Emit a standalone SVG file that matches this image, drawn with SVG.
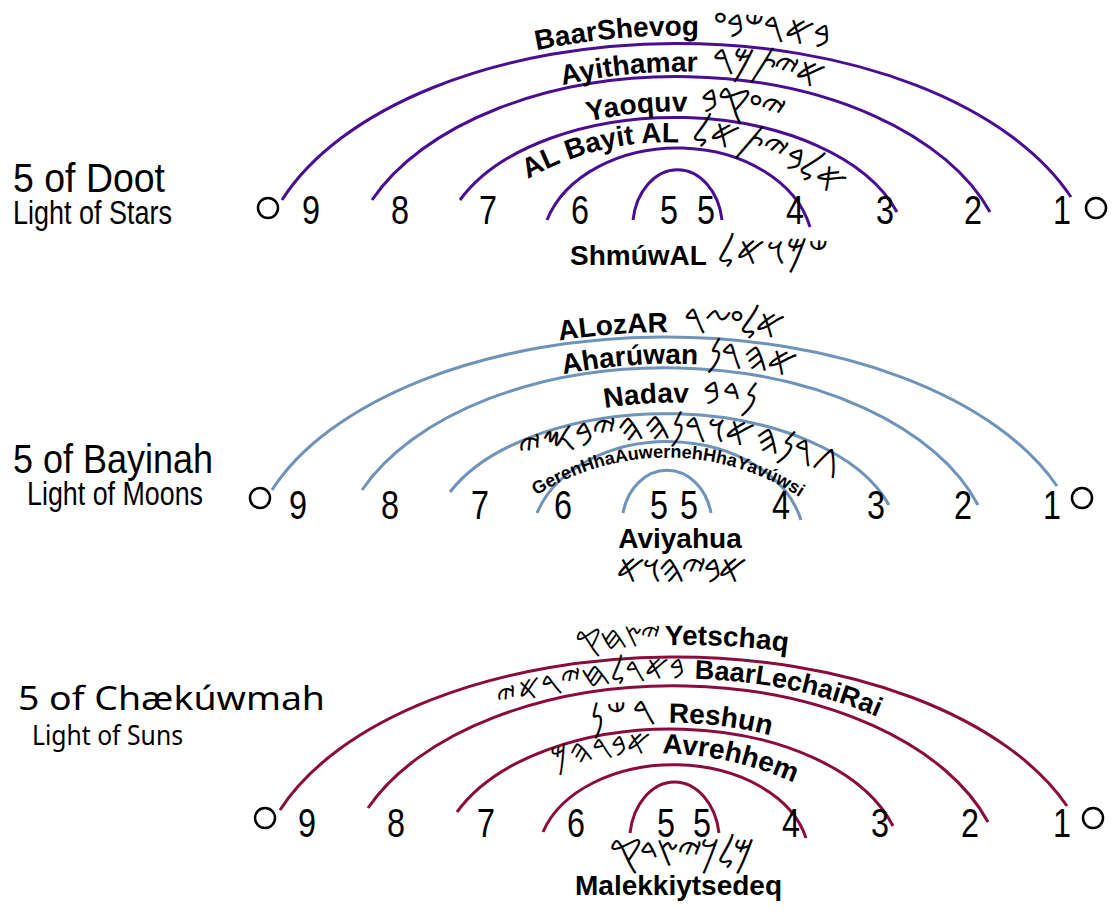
<svg xmlns="http://www.w3.org/2000/svg" xmlns:xlink="http://www.w3.org/1999/xlink" width="1112" height="911" viewBox="0 0 1112 911">
<style>
.num{font-family:"Liberation Sans",Arial,sans-serif;font-size:40px;text-anchor:middle;fill:#000}
.lbl{font-family:"Liberation Sans",Arial,sans-serif;font-weight:bold;font-size:28px;fill:#000;unicode-bidi:bidi-override;direction:ltr}
.ph{font-family:"DejaVu Sans","Noto Sans",sans-serif;font-weight:normal;font-size:40px}
.title{font-family:"Liberation Sans",Arial,sans-serif;fill:#000}
.title3{font-family:"Noto Sans","Open Sans",sans-serif;fill:#000}
.end{fill:none;stroke:#000;stroke-width:2.5}
.arc{fill:none;stroke-width:3}
.s1{stroke:#4a0e91}
.s2{stroke:#6f93b9}
.s3{stroke:#8b0c3c}
</style>
<defs>
<path id="p1" d="M288,192 A420,236 0 0 1 1077,189"/>
<path id="p2" d="M378,195 A330,199 0 0 1 996,207"/>
<path id="p3" d="M462,194 A233,135 0 0 1 899,206"/>
<path id="p4" d="M528,179 A281,281 0 0 1 880,240"/>
<path id="p6" d="M278,485 A418,230 0 0 1 1063,481"/>
<path id="p7" d="M366,486 A328,197 0 0 1 982,501"/>
<path id="p8" d="M457,481 A234,129 0 0 1 896,494"/>
<path id="p9a" d="M523,464 A412,412 0 0 1 850,484"/>
<path id="p9b" d="M516,510 A243,243 0 0 1 820,512"/>
<path id="p11" d="M290,798 A419,230 0 0 1 1077,794"/>
<path id="p12" d="M376,801 A330,196 0 0 1 996,815"/>
<path id="p13" d="M459,806 A232,136 0 0 1 895,820"/>
<path id="p14" d="M555,770 A330,330 0 0 1 850,815"/>
</defs>

<g id="connectors">
<g class="arc s1">
<path d="M282,200 A420,236 0 0 1 1071,197"/>
<path d="M372,200 A330,199 0 0 1 990,212"/>
<path d="M460,200 A233,135 0 0 1 897,212"/>
<path d="M547,220 A136,101 0 0 1 810,227"/>
<path d="M633,220 A45,59 0 0 1 722,220"/>
</g>
<g class="arc s2">
<path d="M272,490 A418,230 0 0 1 1057,486"/>
<path d="M362,490 A328,197 0 0 1 978,505"/>
<path d="M450,492 A234,129 0 0 1 889,505"/>
<path d="M537,513 A137,102 0 0 1 801,520"/>
<path d="M623,513 A45,54 0 0 1 711,513"/>
</g>
<g class="arc s3">
<path d="M280,810 A419,230 0 0 1 1067,806"/>
<path d="M368,808 A330,196 0 0 1 988,822"/>
<path d="M457,812 A232,136 0 0 1 893,826"/>
<path d="M543,832 A136,94 0 0 1 806,838"/>
<path d="M630,833 A45,60 0 0 1 719,833"/>
</g>
</g>

<g id="doot">
<text class="title" x="13" y="192" font-size="41" textLength="152" lengthAdjust="spacingAndGlyphs">5 of Doot</text>
<text class="title" x="13" y="224" font-size="33" textLength="159" lengthAdjust="spacingAndGlyphs">Light of Stars</text>
<circle class="end" cx="268" cy="208" r="10"/>
<circle class="end" cx="1096" cy="208" r="10"/>
<text class="num" x="311" y="224" textLength="18" lengthAdjust="spacingAndGlyphs">9</text>
<text class="num" x="400" y="224" textLength="18" lengthAdjust="spacingAndGlyphs">8</text>
<text class="num" x="488" y="224" textLength="18" lengthAdjust="spacingAndGlyphs">7</text>
<text class="num" x="580" y="224" textLength="18" lengthAdjust="spacingAndGlyphs">6</text>
<text class="num" x="669" y="224" textLength="18" lengthAdjust="spacingAndGlyphs">5</text>
<text class="num" x="706" y="224" textLength="18" lengthAdjust="spacingAndGlyphs">5</text>
<text class="num" x="795" y="224" textLength="18" lengthAdjust="spacingAndGlyphs">4</text>
<text class="num" x="885" y="224" textLength="18" lengthAdjust="spacingAndGlyphs">3</text>
<text class="num" x="973" y="224" textLength="18" lengthAdjust="spacingAndGlyphs">2</text>
<text class="num" x="1062" y="224" textLength="18" lengthAdjust="spacingAndGlyphs">1</text>
</g>
<g id="n-baarshevog"><text class="lbl"><textPath xlink:href="#p1" href="#p1" startOffset="50%" text-anchor="middle">BaarShevog<tspan class="ph" dx="13" style="letter-spacing:-2px">𐤏𐤁𐤔𐤓𐤀𐤁</tspan></textPath></text></g>
<g id="n-ayithamar"><text class="lbl"><textPath xlink:href="#p2" href="#p2" startOffset="50%" text-anchor="middle">Ayithamar<tspan class="ph" dx="14" style="letter-spacing:-4px">𐤓𐤌𐤕𐤉𐤀</tspan></textPath></text></g>
<g id="n-yaoquv"><text class="lbl"><textPath xlink:href="#p3" href="#p3" startOffset="50%" text-anchor="middle">Yaoquv<tspan class="ph" dx="12" style="letter-spacing:-3px">𐤁𐤒𐤏𐤉</tspan></textPath></text></g>
<g id="n-albayital"><text class="lbl"><textPath xlink:href="#p4" href="#p4">AL Bayit AL<tspan class="ph" dx="12" style="letter-spacing:-2px">𐤋𐤀𐤕𐤉𐤁𐤋𐤀</tspan></textPath></text></g>
<g id="n-shmuwal"><text class="lbl" x="570" y="265">ShmúwAL<tspan class="ph" dx="10">𐤋𐤀𐤅𐤌𐤔</tspan></text></g>

<g id="bayinah">
<text class="title" x="13" y="473" font-size="40" textLength="200" lengthAdjust="spacingAndGlyphs">5 of Bayinah</text>
<text class="title" x="27" y="505" font-size="34" textLength="176" lengthAdjust="spacingAndGlyphs">Light of Moons</text>
<circle class="end" cx="260" cy="498" r="10"/>
<circle class="end" cx="1082" cy="498" r="10"/>
<text class="num" x="298" y="519" textLength="18" lengthAdjust="spacingAndGlyphs">9</text>
<text class="num" x="390" y="519" textLength="18" lengthAdjust="spacingAndGlyphs">8</text>
<text class="num" x="480" y="519" textLength="18" lengthAdjust="spacingAndGlyphs">7</text>
<text class="num" x="563" y="519" textLength="18" lengthAdjust="spacingAndGlyphs">6</text>
<text class="num" x="659" y="519" textLength="18" lengthAdjust="spacingAndGlyphs">5</text>
<text class="num" x="689" y="519" textLength="18" lengthAdjust="spacingAndGlyphs">5</text>
<text class="num" x="781" y="519" textLength="18" lengthAdjust="spacingAndGlyphs">4</text>
<text class="num" x="876" y="519" textLength="18" lengthAdjust="spacingAndGlyphs">3</text>
<text class="num" x="963" y="519" textLength="18" lengthAdjust="spacingAndGlyphs">2</text>
<text class="num" x="1052" y="519" textLength="18" lengthAdjust="spacingAndGlyphs">1</text>
</g>
<g id="n-alozar"><text class="lbl"><textPath xlink:href="#p6" href="#p6" startOffset="50%" text-anchor="middle">ALozAR<tspan class="ph" dx="15" style="letter-spacing:-4px">𐤓𐤆𐤏𐤋𐤀</tspan></textPath></text></g>
<g id="n-aharuwan"><text class="lbl"><textPath xlink:href="#p7" href="#p7" startOffset="50%" text-anchor="middle">Aharúwan<tspan class="ph" dx="8" style="letter-spacing:-2px">𐤍𐤓𐤄𐤀</tspan></textPath></text></g>
<g id="n-nadav"><text class="lbl"><textPath xlink:href="#p8" href="#p8" startOffset="50%" text-anchor="middle">Nadav<tspan class="ph" dx="13">𐤁𐤃𐤍</tspan></textPath></text></g>
<g id="n-geren">
<text class="lbl ph" style="letter-spacing:-1.5px"><textPath xlink:href="#p9a" href="#p9a">𐤉𐤎𐤁𐤉𐤄𐤄𐤍𐤓𐤅𐤀𐤄𐤍𐤓𐤂</textPath></text>
<text class="lbl" style="font-size:18px"><textPath xlink:href="#p9b" href="#p9b" startOffset="50%" text-anchor="middle">GerenHhaAuwernehHhaYavúwsi</textPath></text>
</g>
<g id="n-aviyahua">
<text class="lbl" x="680" y="548" text-anchor="middle">Aviyahua</text>
<text class="lbl ph" x="680" y="583" text-anchor="middle" style="letter-spacing:-4px">𐤀𐤅𐤄𐤉𐤁𐤀</text>
</g>

<g id="chaekuwmah">
<text class="title3" x="18" y="710" font-size="33" textLength="307" lengthAdjust="spacingAndGlyphs">5 of Chækúwmah</text>
<text class="title3" x="32" y="745" font-size="28" textLength="151" lengthAdjust="spacingAndGlyphs">Light of Suns</text>
<circle class="end" cx="265" cy="818" r="10"/>
<circle class="end" cx="1093" cy="818" r="10"/>
<text class="num" x="307" y="837" textLength="18" lengthAdjust="spacingAndGlyphs">9</text>
<text class="num" x="396" y="837" textLength="18" lengthAdjust="spacingAndGlyphs">8</text>
<text class="num" x="486" y="837" textLength="18" lengthAdjust="spacingAndGlyphs">7</text>
<text class="num" x="576" y="837" textLength="18" lengthAdjust="spacingAndGlyphs">6</text>
<text class="num" x="666" y="837" textLength="18" lengthAdjust="spacingAndGlyphs">5</text>
<text class="num" x="702" y="837" textLength="18" lengthAdjust="spacingAndGlyphs">5</text>
<text class="num" x="791" y="837" textLength="18" lengthAdjust="spacingAndGlyphs">4</text>
<text class="num" x="880" y="837" textLength="18" lengthAdjust="spacingAndGlyphs">3</text>
<text class="num" x="970" y="837" textLength="18" lengthAdjust="spacingAndGlyphs">2</text>
<text class="num" x="1062" y="837" textLength="18" lengthAdjust="spacingAndGlyphs">1</text>
</g>
<g id="n-yetschaq"><text class="lbl"><textPath xlink:href="#p11" href="#p11" startOffset="50%" text-anchor="middle"><tspan class="ph" style="font-size:32px;letter-spacing:-3px">𐤒𐤇𐤑𐤉</tspan><tspan dx="6">Yetschaq</tspan></textPath></text></g>
<g id="n-baarlechairai"><text class="lbl" style="font-size:27px"><textPath xlink:href="#p12" href="#p12" startOffset="50%" text-anchor="middle"><tspan class="ph" style="font-size:34px;letter-spacing:-1px">𐤉𐤀𐤓𐤉𐤇𐤋𐤓𐤀𐤁</tspan><tspan dx="11">BaarLechaiRai</tspan></textPath></text></g>
<g id="n-reshun"><text class="lbl"><textPath xlink:href="#p13" href="#p13" startOffset="50%" text-anchor="middle"><tspan class="ph" style="letter-spacing:3px">𐤍𐤔𐤓</tspan><tspan dx="9">Reshun</tspan></textPath></text></g>
<g id="n-avrehhem"><text class="lbl"><textPath xlink:href="#p14" href="#p14"><tspan class="ph" style="font-size:34px;letter-spacing:-1px">𐤌𐤄𐤓𐤁𐤀</tspan><tspan dx="11">Avrehhem</tspan></textPath></text></g>
<g id="n-malekkiytsedeq">
<text class="lbl ph" x="680" y="866" text-anchor="middle" style="letter-spacing:-3px">𐤒𐤃𐤑𐤉𐤊𐤋𐤌</text>
<text class="lbl" x="575" y="895">Malekkiytsedeq</text>
</g>
</svg>
